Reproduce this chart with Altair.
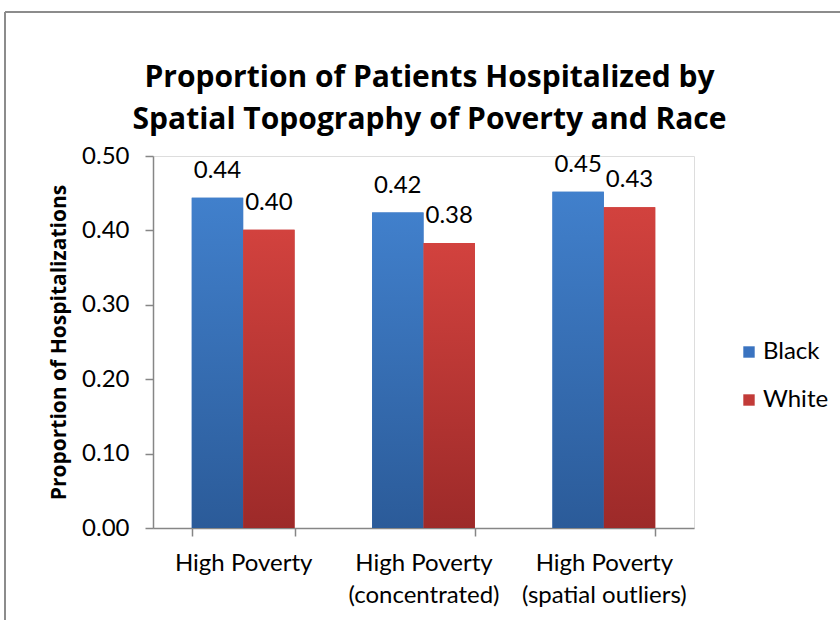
import altair as alt
import pandas as pd

categories = ["High Poverty", "High Poverty\n(concentrated)", "High Poverty\n(spatial outliers)"]
black_values = [0.444, 0.424, 0.452]
white_values = [0.401, 0.383, 0.431]
series = ["Black", "White"]
y_ticks = [0.0, 0.1, 0.2, 0.3, 0.4, 0.5]

rows = []
for c, b, w in zip(categories, black_values, white_values):
    rows.append({"cat": c, "race": "Black", "value": b})
    rows.append({"cat": c, "race": "White", "value": w})
df = pd.DataFrame(rows)

FONT = "Lato"
TFONT = "Open Sans"
AXIS_GRAY = "#868686"

x_enc = alt.X("cat:N", sort=categories,
              scale=alt.Scale(paddingInner=0.43, paddingOuter=0.215),
              axis=alt.Axis(title=None, labelAngle=0, labelFontSize=24, labelFont=FONT,
                            labelColor="black", labelExpr="split(datum.label, '\\n')",
                            labelLineHeight=32, labelPadding=15, tickBand="extent",
                            tickSize=8, tickColor=AXIS_GRAY, domainColor=AXIS_GRAY,
                            tickWidth=1.5, domainWidth=1.5))
xo_enc = alt.XOffset("race:N", sort=series,
                     scale=alt.Scale(domain=series, paddingInner=0, paddingOuter=0))
y_enc = alt.Y("value:Q",
              scale=alt.Scale(domain=[0, 0.5], nice=False),
              axis=alt.Axis(title="Proportion of Hospitalizations", titleFontSize=21,
                            titleFont=TFONT, titleFontWeight="bold", titleColor="black",
                            titlePadding=12, values=y_ticks, format=".2f", labelFontSize=24,
                            labelFont=FONT, labelColor="black", labelPadding=16, grid=False,
                            tickSize=8, tickColor=AXIS_GRAY, domainColor=AXIS_GRAY,
                            tickWidth=1.5, domainWidth=1.5))

base = alt.Chart(df)

bars = base.mark_bar().encode(
    x=x_enc, xOffset=xo_enc, y=y_enc,
    color=alt.Color("race:N", sort=series,
                    scale=alt.Scale(domain=series, range=["#3a73c0", "#c23b38"]),
                    legend=alt.Legend(title=None, orient="none", legendX=584, legendY=184,
                                      symbolType="square", symbolSize=130,
                                      symbolStrokeWidth=0, labelFontSize=24,
                                      labelFont=FONT, labelColor="black", rowPadding=24,
                                      labelOffset=2)),
)

def grad(top, bottom):
    return alt.Gradient(gradient="linear",
                        stops=[alt.GradientStop(color=top, offset=0),
                               alt.GradientStop(color=bottom, offset=1)],
                        x1=0, x2=0, y1=0, y2=1)

black_bars = base.transform_filter(alt.datum.race == "Black").mark_bar(
    color=grad("#4180cc", "#2b5b99")).encode(x=x_enc, xOffset=xo_enc, y=y_enc)
white_bars = base.transform_filter(alt.datum.race == "White").mark_bar(
    color=grad("#d2423e", "#9d2a29")).encode(x=x_enc, xOffset=xo_enc, y=y_enc)

labels = base.mark_text(dy=-27, fontSize=24, font=FONT, color="black").encode(
    x=x_enc, xOffset=xo_enc, y=y_enc, text=alt.Text("value:Q", format=".2f"))

one = pd.DataFrame({"a": [0]})
left_border = alt.Chart(one).mark_rule(color="#8c8c8c", strokeWidth=2).encode(
    x=alt.value(-148), y=alt.value(-144), y2=alt.value(470))
top_border = alt.Chart(one).mark_rule(color="#8c8c8c", strokeWidth=2).encode(
    x=alt.value(-148), x2=alt.value(700), y=alt.value(-144))

chart = alt.layer(bars, black_bars, white_bars, labels, left_border, top_border).properties(
    width=541, height=372,
    title=alt.TitleParams(
        text=["Proportion of Patients Hospitalized by",
              "Spatial Topography of Poverty and Race"],
        font=TFONT, fontSize=30, fontWeight="bold", color="black",
        anchor="middle", lineHeight=42, offset=0, dx=6, dy=124),
    autosize=alt.AutoSizeParams(type="none"),
    padding={"left": 153, "top": 156, "right": 146, "bottom": 92},
).configure_view(stroke=None).configure(background="white")

chart.save("out.html", embed_options={"renderer": "svg", "actions": False})
